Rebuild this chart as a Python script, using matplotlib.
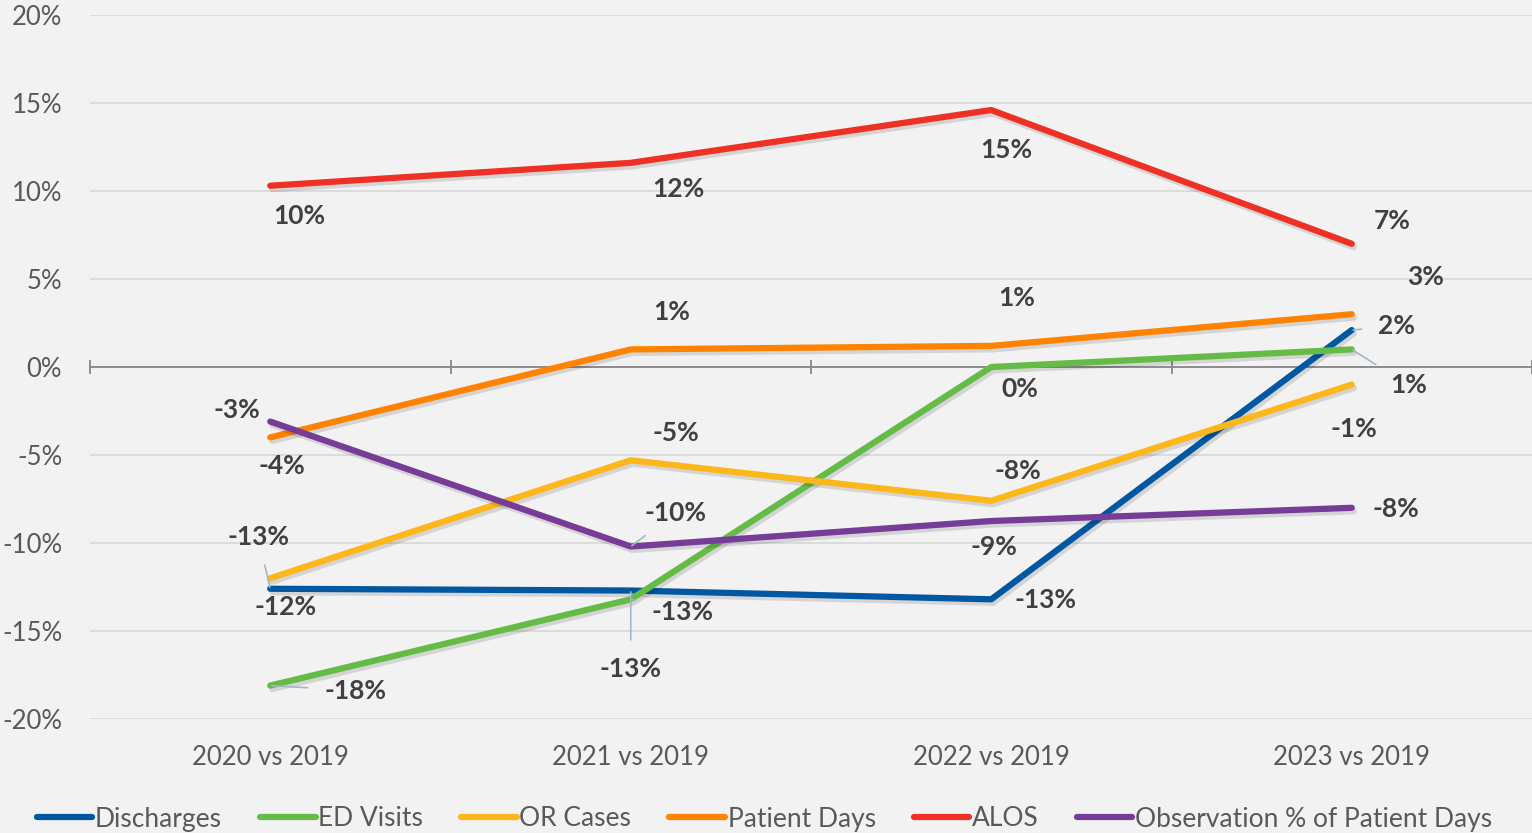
import matplotlib
matplotlib.use("Agg")
import matplotlib.pyplot as plt
import matplotlib.patheffects as pe
from matplotlib.lines import Line2D
import matplotlib.transforms as mtransforms

plt.rcParams['font.family'] = ['Lato', 'DejaVu Sans']

categories = ["2020 vs 2019", "2021 vs 2019", "2022 vs 2019", "2023 vs 2019"]
discharges = [-12.6, -12.7, -13.2, 2.1]
ed_visits = [-18.1, -13.2, 0.0, 1.0]
or_cases = [-12.0, -5.3, -7.6, -1.0]
patient_days = [-4.0, 1.0, 1.2, 3.0]
alos = [10.3, 11.6, 14.6, 7.0]
observation = [-3.1, -10.2, -8.75, -8.0]

series_names = ["Discharges", "ED Visits", "OR Cases", "Patient Days", "ALOS",
                "Observation % of Patient Days"]
series_values = [discharges, ed_visits, or_cases, patient_days, alos, observation]
colors = ["#0057A2", "#64BC46", "#FDB71A", "#FF8300", "#EE3124", "#763C97"]

# label offsets in pixels (dx right, dy up) relative to each point
label_offsets = [
    [(-12, 52), (0, -78), (54, -1), (45, 4)],
    [(85, -5), (52, -13), (29, -22), (57, -36)],
    [(15, -29), (45, 27), (27, 30), (2, -44)],
    [(12, -29), (41, 37), (25, 48), (74, 37)],
    [(29, -30), (48, -26), (15, -40), (40, 23)],
    [(-33, 12), (45, 34), (3, -26), (44, -1)],
]
leaders = {(0, 0), (0, 1), (0, 3), (1, 0), (1, 1), (1, 3), (5, 1)}

W, H = 1532, 833
fig = plt.figure(figsize=(W / 100, H / 100), dpi=100, facecolor="#F2F2F2")
ax = fig.add_axes([90 / W, (H - 719) / H, (1532 - 90) / W, (719 - 15) / H])
ax.set_facecolor("#F2F2F2")

ax.set_xlim(-0.5, 3.5)
ax.set_ylim(-20, 20)
yt = list(range(-20, 21, 5))
ax.set_yticks(yt)
ax.set_yticklabels([f"{v}%" for v in yt], fontsize=18.5, color="#595959")
ax.tick_params(axis="y", length=0, pad=20)
ax.grid(axis="y", color="#D9D9D9", lw=1.3)
ax.set_axisbelow(True)
for s in ["top", "right", "left"]:
    ax.spines[s].set_visible(False)
ax.spines["bottom"].set_position(("data", 0))
ax.spines["bottom"].set_color("#868686")
ax.spines["bottom"].set_linewidth(1.3)
ax.set_xticks([i - 0.5 for i in range(len(categories) + 1)])
ax.set_xticklabels([])
ax.tick_params(axis="x", direction="inout", length=10, width=1.3, color="#868686")

trans = mtransforms.blended_transform_factory(ax.transData, ax.transAxes)
for i, c in enumerate(categories):
    ax.text(i, -0.055, c, transform=trans, ha="center", va="center",
            fontsize=18.5, color="#595959")

x = list(range(len(categories)))
shadow = [pe.SimpleLineShadow(offset=(1.5, -2.5), shadow_color="#000000", alpha=0.12),
          pe.Normal()]
for k, (name, vals, col) in enumerate(zip(series_names, series_values, colors)):
    ax.plot(x, vals, color=col, lw=4.5, solid_capstyle="round",
            solid_joinstyle="round", path_effects=shadow, zorder=3 + k * 0.1)
    for i, v in enumerate(vals):
        dx, dy = label_offsets[k][i]
        ap = None
        if (k, i) in leaders:
            ap = dict(arrowstyle="-", color="#A5B5C3", lw=1.2, shrinkA=10, shrinkB=1)
        ax.annotate(f"{round(v):.0f}%", (i, v), xytext=(dx, dy),
                    textcoords="offset pixels", ha="center", va="center",
                    fontsize=19, fontweight="bold", color="#404040",
                    arrowprops=ap, zorder=10)

handles = [Line2D([0], [0], color=c, lw=4.5, solid_capstyle="round") for c in colors]
fig.legend(handles, series_names, loc="center", bbox_to_anchor=(0.499, 14 / H),
           ncol=6, frameon=False, fontsize=19, handlelength=2.1, handletextpad=0.1,
           columnspacing=1.45, labelcolor="#595959")

fig.savefig("out.png", dpi=100, facecolor="#F2F2F2")
